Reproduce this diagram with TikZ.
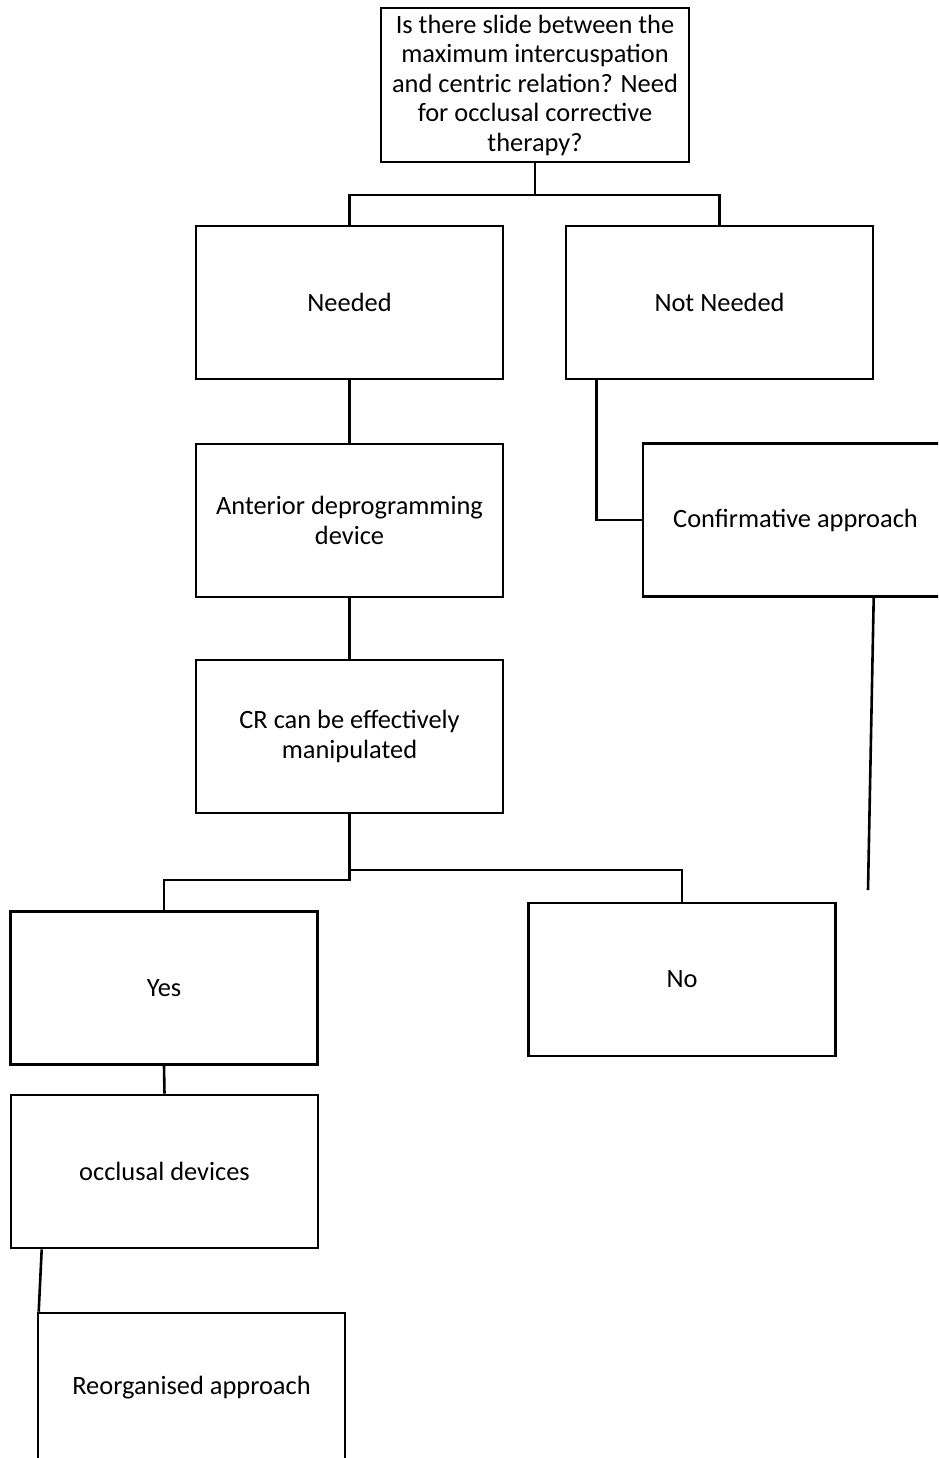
\documentclass[tikz,border=0pt]{standalone}
\usepackage{fontspec}
\setmainfont{Carlito}
\begin{document}
\begin{tikzpicture}[x=1pt,y=-1pt,
  box/.style={draw,line width=2.6pt,minimum width=307pt,minimum height=153pt,inner sep=0pt,align=center,font=\fontsize{26.4}{29.5}\selectfont},
  conn/.style={line width=2.6pt}]
\useasboundingbox (0,0) rectangle (938,1458);
\clip (0,0) rectangle (938,1458);
\node[box,minimum width=308pt,minimum height=154pt] (top) at (535,85) {Is there slide between the\\maximum intercuspation\\and centric relation? Need\\for occlusal corrective\\therapy?};
\node[box] (needed) at (349.5,302.5) {Needed};
\node[box] (notneeded) at (719.5,302.5) {Not Needed};
\node[box] (anterior) at (349.5,520.5) {Anterior deprogramming\\device};
\node[box,minimum width=305pt] (confirm) at (795.5,520) {Confirmative approach};
\node[box] (cr) at (349.5,736.5) {CR can be effectively\\manipulated};
\node[box] (yes) at (164,988) {Yes};
\node[box] (no) at (682,979.5) {No};
\node[box] (occl) at (164.5,1171.5) {occlusal devices};
\node[box,minimum height=150pt] (reorg) at (191.5,1388) {Reorganised approach};
\coordinate (j1) at (535,195);
\coordinate (j2) at (349.5,880);
\coordinate (j3) at (349.5,870);
\coordinate (free) at (868,890);
\draw[conn] (top.south) -- (j1);
\draw[conn] (needed.north) |- (j1) -| (notneeded.north);
\draw[conn] (needed.south) -- (anterior.north);
\draw[conn] ([xshift=32pt]notneeded.south west) |- (confirm.west);
\draw[conn] (anterior.south) -- (cr.north);
\draw[conn] (cr.south) -- (j2) -| (yes.north);
\draw[conn] (j3) -| (no.north);
\draw[conn] (yes.south) -- (occl.north);
\draw[conn] ([xshift=32pt]occl.south west) -- ([xshift=2pt]reorg.north west);
\draw[conn] ([xshift=232pt]confirm.south west) -- (free);
\end{tikzpicture}
\end{document}
